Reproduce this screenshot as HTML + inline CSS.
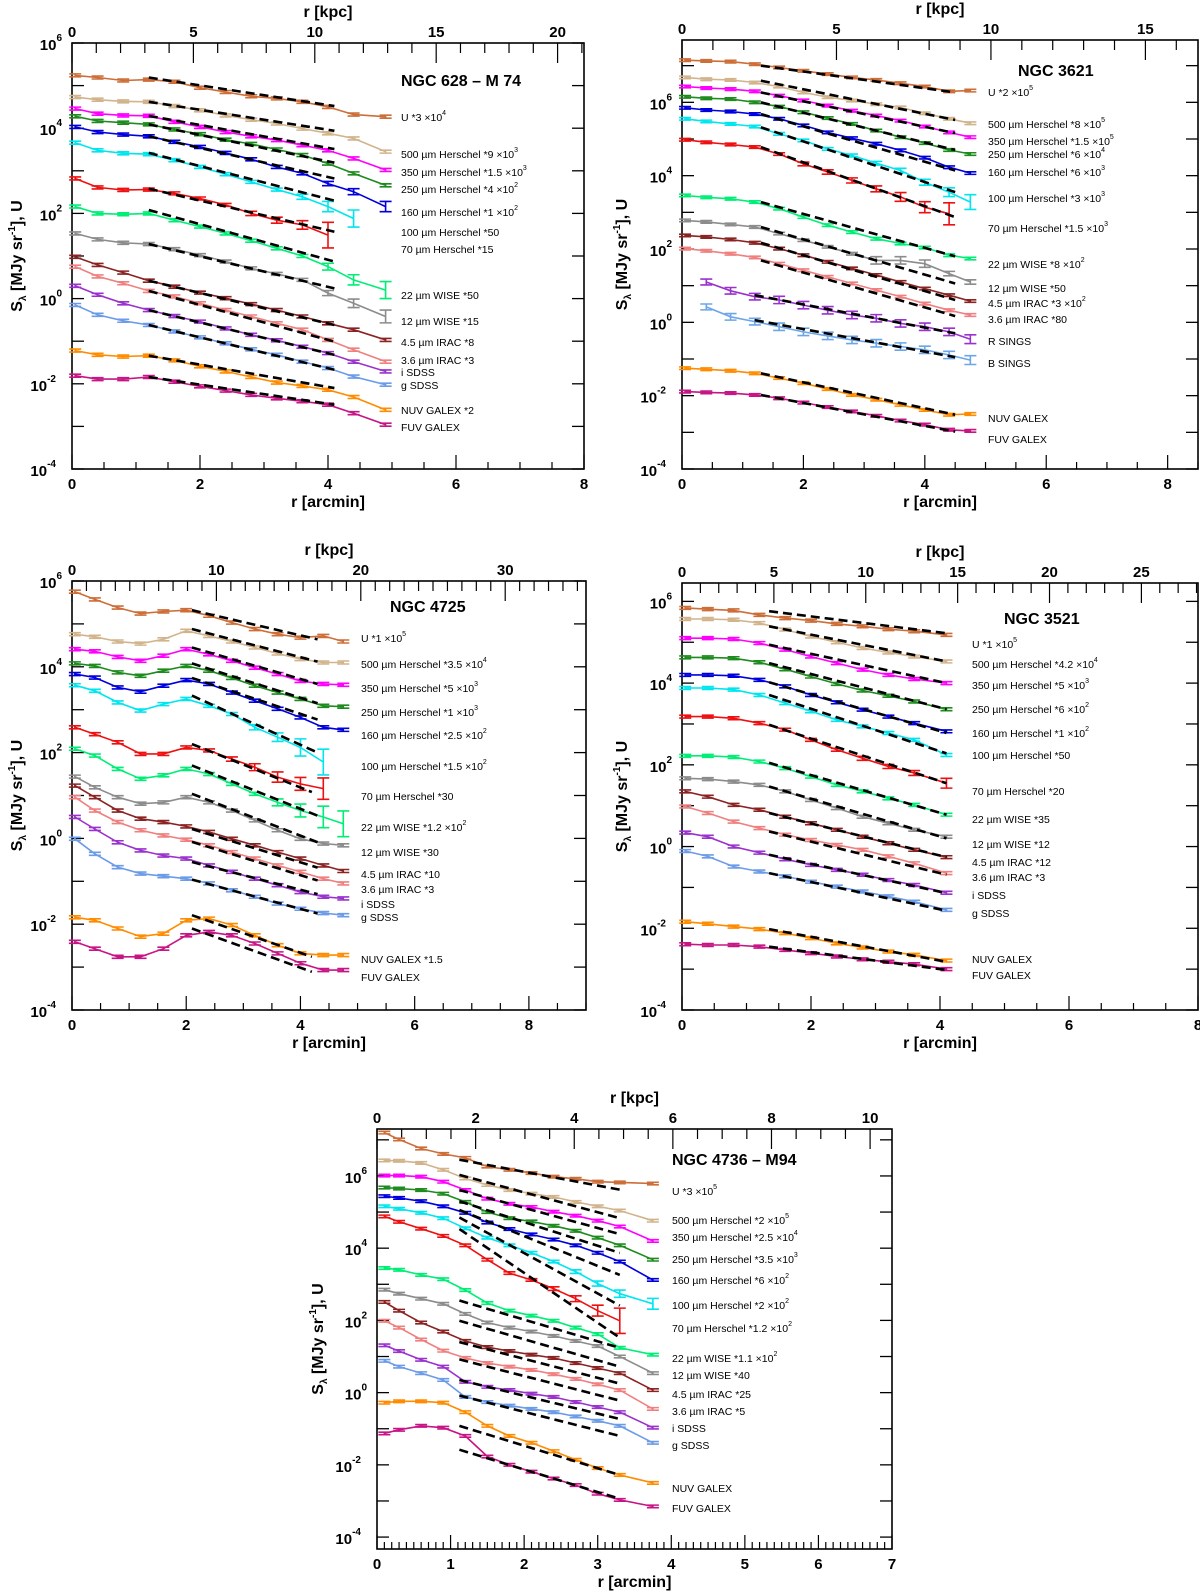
<!DOCTYPE html>
<html><head><meta charset="utf-8"><title>Surface brightness profiles</title>
<style>
html,body{margin:0;padding:0;background:#fff;}
svg{display:block;font-family:"Liberation Sans",Arial,sans-serif;}
.tl{font-size:15px;font-weight:bold;fill:#000;}
.at{font-size:16px;font-weight:bold;fill:#000;}
.sl{font-size:10.5px;fill:#000;}
.tt{font-size:16px;font-weight:bold;fill:#000;}
</style></head>
<body>
<svg id="fig" width="1200" height="1593" viewBox="0 0 1200 1593" xmlns="http://www.w3.org/2000/svg"></svg>
<script>
// ===== Panel 1: NGC 628 (log10 values) =====
const p1_r=[0.05,0.4,0.8,1.2,1.6,2.0,2.4,2.8,3.2,3.6,4.0,4.4,4.9];
const p1_U=[5.24,5.19,5.12,5.14,5.09,4.95,4.85,4.75,4.70,4.62,4.50,4.32,4.27];
const p1_500=[4.73,4.67,4.63,4.62,4.52,4.42,4.30,4.20,4.11,3.99,3.88,3.76,3.45];
const p1_350=[4.46,4.34,4.30,4.29,4.15,4.03,3.91,3.81,3.72,3.60,3.48,3.29,3.02];
const p1_250=[4.28,4.17,4.13,4.09,3.97,3.86,3.73,3.63,3.50,3.37,3.17,2.94,2.66];
const p1_160=[4.03,3.91,3.85,3.81,3.68,3.56,3.42,3.27,3.09,2.94,2.70,2.51,2.16];
const p1_100=[3.66,3.48,3.41,3.39,3.25,3.09,2.92,2.74,2.56,2.39,2.16,1.88,null];
const p1_70=[2.82,2.61,2.55,2.56,2.47,2.35,2.20,2.00,1.84,1.73,1.49,null,null];
const p1_22=[2.16,2.00,1.98,2.00,1.84,1.69,1.53,1.36,1.18,1.00,0.75,0.44,0.20];
const p1_12=[1.53,1.39,1.31,1.28,1.16,1.02,0.87,0.71,0.58,0.44,0.13,-0.11,-0.42];
const p1_45=[0.98,0.79,0.61,0.42,0.28,0.14,0.01,-0.13,-0.27,-0.42,-0.58,-0.73,-0.97];
const p1_36=[0.75,0.52,0.36,0.18,0.05,-0.11,-0.27,-0.42,-0.58,-0.73,-0.97,-1.20,-1.48];
const p1_i=[0.30,0.09,-0.11,-0.27,-0.41,-0.54,-0.70,-0.85,-0.98,-1.13,-1.28,-1.48,-1.71];
const p1_g=[-0.15,-0.38,-0.52,-0.62,-0.77,-0.91,-1.05,-1.19,-1.32,-1.48,-1.63,-1.83,-2.02];
const p1_NUV=[-1.22,-1.32,-1.36,-1.34,-1.45,-1.59,-1.71,-1.84,-1.97,-2.05,-2.14,-2.31,-2.61];
const p1_FUV=[-1.81,-1.89,-1.89,-1.84,-1.95,-2.06,-2.16,-2.26,-2.34,-2.41,-2.49,-2.69,-2.96];
const p1_err100=[0,0,0,0,0,0,0,0,0,0.06,0.12,0.2,0];
const p1_err70=[0,0,0,0,0,0,0,0.05,0.07,0.1,0.3,0,0];
const p1_err22=[0,0,0,0,0,0,0,0,0,0,0.08,0.12,0.2];
const p1_err12=[0,0,0,0,0,0,0,0,0,0,0.06,0.1,0.15];
const p1_err160=[0,0,0,0,0,0,0,0,0,0,0.05,0.07,0.12];
const p1_fU=[1.2,5.19,4.1,4.52], p1_f500=[1.2,4.62,4.1,3.94], p1_f350=[1.2,4.29,4.1,3.51];
const p1_f250=[1.2,4.09,4.1,3.19], p1_f160=[1.2,3.81,4.1,2.82], p1_f100=[1.2,3.42,4.1,2.30];
const p1_f70=[1.2,2.58,4.1,1.57], p1_f22=[1.2,2.08,4.1,0.87], p1_f12=[1.2,1.28,4.1,0.24];
const p1_f45=[1.2,0.42,4.1,-0.62], p1_f36=[1.2,0.18,4.1,-1.01], p1_fi=[1.2,-0.27,4.1,-1.32];
const p1_fg=[1.2,-0.62,4.1,-1.67], p1_fNUV=[1.2,-1.34,4.1,-2.10], p1_fFUV=[1.2,-1.84,4.1,-2.49];

// ===== Panel 2: NGC 3621 =====
const p2_r=[0.05,0.4,0.8,1.2,1.6,2.0,2.4,2.8,3.2,3.6,4.0,4.4,4.75];
const p2_U=[7.15,7.13,7.11,7.04,6.95,6.86,6.77,6.68,6.61,6.52,6.43,6.30,6.32];
const p2_500=[6.68,6.63,6.61,6.54,6.43,6.27,6.14,6.05,5.95,5.86,5.70,5.55,5.43];
const p2_350=[6.43,6.39,6.36,6.30,6.18,6.05,5.91,5.77,5.64,5.50,5.34,5.18,5.05];
const p2_250=[6.15,6.11,6.09,6.00,5.88,5.73,5.57,5.41,5.23,5.05,4.89,4.70,4.59];
const p2_160=[5.85,5.79,5.75,5.68,5.55,5.37,5.18,5.02,4.87,4.69,4.49,4.23,4.07];
const p2_100=[5.55,5.48,5.41,5.34,5.14,4.96,4.73,4.55,4.34,4.14,3.82,3.55,3.28];
const p2_70=[4.98,4.91,4.85,4.78,4.59,4.32,4.10,3.87,3.64,3.42,3.14,2.96,null];
const p2_22=[3.46,3.41,3.37,3.28,3.10,2.87,2.65,2.46,2.28,2.15,2.04,1.83,1.74];
const p2_12=[2.78,2.74,2.67,2.60,2.42,2.24,2.06,1.87,1.69,1.69,1.60,1.33,1.10];
const p2_45=[2.37,2.33,2.26,2.17,2.01,1.83,1.65,1.47,1.29,1.10,0.92,0.74,0.58];
const p2_36=[2.01,1.95,1.87,1.77,1.60,1.42,1.24,1.06,0.88,0.70,0.51,0.33,0.20];
const p2_R=[null,1.10,0.86,0.70,0.61,0.47,0.33,0.20,0.11,-0.03,-0.12,-0.26,-0.46];
const p2_B=[null,0.42,0.15,0.02,-0.12,-0.26,-0.37,-0.48,-0.57,-0.66,-0.75,-0.89,-1.03];
const p2_NUV=[-1.25,-1.28,-1.32,-1.39,-1.52,-1.66,-1.82,-1.98,-2.11,-2.25,-2.39,-2.52,-2.50];
const p2_FUV=[-1.89,-1.91,-1.93,-1.98,-2.07,-2.19,-2.31,-2.43,-2.55,-2.68,-2.79,-2.93,-2.96];
const p2_err100=[0,0,0,0,0,0,0,0.04,0.05,0.06,0.08,0.12,0.2];
const p2_err70=[0,0,0,0,0,0.05,0.06,0.07,0.08,0.12,0.15,0.3,0];
const p2_err12=[0,0,0,0,0,0,0,0,0.1,0.1,0.1,0.06,0.06];
const p2_errR=[0,0.08,0.09,0.09,0.1,0.1,0.1,0.1,0.1,0.1,0.1,0.1,0.12];
const p2_errB=[0,0.08,0.09,0.09,0.1,0.1,0.1,0.1,0.1,0.1,0.1,0.1,0.12];
const p2_fU=[1.3,7.00,4.5,6.27], p2_f500=[1.3,6.59,4.5,5.52], p2_f350=[1.3,6.27,4.5,5.16];
const p2_f250=[1.3,6.00,4.5,4.70], p2_f160=[1.3,5.68,4.5,4.14], p2_f100=[1.3,5.32,4.5,3.55];
const p2_f70=[1.3,4.78,4.5,2.87], p2_f22=[1.3,3.28,4.5,1.80], p2_f12=[1.3,2.60,4.5,1.06];
const p2_f45=[1.3,2.17,4.5,0.61], p2_f36=[1.3,1.69,4.5,0.17], p2_fR=[1.2,0.74,4.5,-0.30];
const p2_fB=[1.2,0.06,4.5,-0.95], p2_fNUV=[1.3,-1.39,4.5,-2.52], p2_fFUV=[1.3,-1.98,4.5,-2.98];

// ===== Panel 3: NGC 4725 =====
const p3_r=[0.05,0.4,0.8,1.2,1.6,2.0,2.4,2.8,3.2,3.6,4.0,4.4,4.75];
const p3_U=[5.75,5.57,5.38,5.24,5.29,5.32,5.19,5.03,4.88,4.76,4.68,4.72,4.59];
const p3_500=[4.76,4.70,4.59,4.54,4.64,4.84,4.72,4.59,4.45,4.31,4.18,4.10,4.10];
const p3_350=[4.41,4.36,4.23,4.14,4.26,4.41,4.29,4.14,3.98,3.83,3.67,3.60,3.58];
const p3_250=[4.08,4.02,3.87,3.79,3.91,4.02,3.91,3.74,3.56,3.40,3.25,3.09,3.07];
const p3_160=[3.83,3.75,3.52,3.42,3.56,3.69,3.60,3.40,3.21,3.02,2.82,2.59,2.53];
const p3_100=[3.57,3.44,3.17,2.98,3.13,3.25,3.09,2.90,2.59,2.36,2.12,1.78,null];
const p3_70=[2.59,2.43,2.24,1.97,1.97,2.12,2.05,1.85,1.66,1.43,1.27,1.16,null];
const p3_22=[2.09,1.93,1.62,1.39,1.47,1.62,1.50,1.27,1.04,0.84,0.65,0.50,0.34];
const p3_12=[1.44,1.19,0.96,0.81,0.84,0.96,0.84,0.65,0.42,0.19,-0.01,-0.12,-0.16];
const p3_45=[1.23,0.96,0.65,0.46,0.38,0.28,0.15,-0.01,-0.16,-0.32,-0.47,-0.63,-0.76];
const p3_36=[0.96,0.65,0.38,0.19,0.07,-0.03,-0.16,-0.32,-0.47,-0.63,-0.78,-0.94,-1.05];
const p3_i=[0.50,0.22,-0.09,-0.28,-0.40,-0.47,-0.63,-0.78,-0.94,-1.09,-1.25,-1.36,-1.40];
const p3_g=[-0.01,-0.36,-0.67,-0.82,-0.88,-0.94,-1.05,-1.21,-1.36,-1.52,-1.64,-1.74,-1.79];
const p3_NUV=[-1.84,-1.91,-2.10,-2.29,-2.22,-1.91,-1.87,-2.02,-2.26,-2.49,-2.68,-2.72,-2.72];
const p3_FUV=[-2.41,-2.57,-2.76,-2.76,-2.57,-2.26,-2.18,-2.26,-2.45,-2.68,-2.91,-3.07,-3.07];
const p3_err100=[0,0,0,0,0,0,0,0,0.06,0.1,0.2,0.3,0];
const p3_err70=[0,0,0,0,0,0,0,0.05,0.08,0.12,0.15,0.25,0];
const p3_err22=[0,0,0,0,0,0,0,0,0,0.08,0.15,0.25,0.3];
const p3_fU=[2.1,5.32,4.3,4.64], p3_f500=[2.1,4.88,4.3,4.12], p3_f350=[2.1,4.45,4.3,3.60];
const p3_f250=[2.1,4.08,4.3,3.15], p3_f160=[2.1,3.74,4.3,2.77], p3_f100=[2.1,3.33,4.3,2.00];
const p3_f70=[2.1,2.20,4.2,1.08], p3_f22=[2.1,1.70,4.3,0.53], p3_f12=[2.1,1.04,4.3,-0.09];
const p3_f45=[2.1,0.22,4.3,-0.68], p3_f36=[2.1,-0.08,4.3,-0.98], p3_fi=[2.1,-0.55,4.3,-1.30];
const p3_fg=[2.1,-0.96,4.3,-1.75], p3_fNUV=[2.1,-1.79,4.2,-2.76], p3_fFUV=[2.1,-2.10,4.2,-3.11];

// ===== Panel 4: NGC 3521 =====
const p4_r=[0.05,0.4,0.8,1.2,1.6,2.0,2.4,2.8,3.2,3.6,4.1];
const p4_U=[5.84,5.81,5.78,5.67,5.59,5.53,5.45,5.39,5.32,5.27,5.18];
const p4_500=[5.57,5.57,5.55,5.47,5.31,5.14,5.00,4.86,4.75,4.65,4.53];
const p4_350=[5.10,5.10,5.08,4.98,4.82,4.65,4.49,4.33,4.20,4.10,4.00];
const p4_250=[4.63,4.63,4.61,4.51,4.34,4.16,3.98,3.82,3.69,3.55,3.36];
const p4_160=[4.20,4.20,4.18,4.08,3.92,3.71,3.53,3.35,3.18,3.02,2.82];
const p4_100=[3.88,3.88,3.84,3.71,3.51,3.31,3.10,2.94,2.78,2.61,2.24];
const p4_70=[3.18,3.18,3.14,3.02,2.86,2.61,2.37,2.16,1.96,1.80,1.55];
const p4_22=[2.22,2.22,2.19,2.08,1.92,1.71,1.51,1.35,1.18,1.02,0.78];
const p4_12=[1.67,1.65,1.59,1.51,1.35,1.14,0.94,0.73,0.57,0.41,0.24];
const p4_45=[1.35,1.22,1.02,0.90,0.73,0.57,0.41,0.24,0.08,-0.08,-0.26];
const p4_36=[0.98,0.82,0.61,0.45,0.29,0.16,0.04,-0.08,-0.24,-0.41,-0.65];
const p4_i=[0.34,0.24,0.00,-0.15,-0.31,-0.45,-0.57,-0.69,-0.82,-0.94,-1.13];
const p4_g=[-0.11,-0.24,-0.49,-0.61,-0.73,-0.86,-0.98,-1.10,-1.22,-1.35,-1.55];
const p4_NUV=[-1.84,-1.89,-1.96,-2.02,-2.12,-2.24,-2.37,-2.47,-2.57,-2.65,-2.79];
const p4_FUV=[-2.39,-2.41,-2.41,-2.45,-2.53,-2.61,-2.69,-2.76,-2.82,-2.88,-3.00];
const p4_err70=[0,0,0,0,0,0,0,0.05,0.05,0.06,0.12];
const p4_fU=[1.35,5.76,4.1,5.22], p4_f500=[1.35,5.39,4.1,4.53], p4_f350=[1.35,4.94,4.1,4.00];
const p4_f250=[1.35,4.49,4.1,3.36], p4_f160=[1.35,4.02,4.1,2.78], p4_f100=[1.35,3.71,4.1,2.28];
const p4_f70=[1.35,2.98,4.1,1.55], p4_f22=[1.35,2.05,4.1,0.78], p4_f12=[1.35,1.47,4.1,0.20];
const p4_f45=[1.35,0.82,4.1,-0.26], p4_f36=[1.35,0.37,4.1,-0.69], p4_fi=[1.35,-0.20,4.1,-1.14];
const p4_fg=[1.35,-0.65,4.1,-1.57], p4_fNUV=[1.35,-2.02,4.1,-2.82], p4_fFUV=[1.35,-2.45,4.1,-3.02];

// ===== Panel 5: NGC 4736 =====
const p5_r=[0.1,0.3,0.6,0.9,1.2,1.5,1.8,2.1,2.4,2.7,3.0,3.3,3.75];
const p5_U=[7.20,7.01,6.76,6.61,6.50,6.26,6.17,6.08,5.98,5.92,5.84,5.82,5.79];
const p5_500=[6.43,6.42,6.36,6.17,5.93,5.75,5.61,5.51,5.42,5.28,5.16,5.04,4.76];
const p5_350=[6.01,6.01,5.98,5.84,5.61,5.37,5.23,5.14,5.01,4.90,4.76,4.60,4.20];
const p5_250=[5.68,5.65,5.61,5.51,5.28,5.00,4.83,4.74,4.62,4.48,4.29,4.08,3.68];
const p5_160=[5.44,5.39,5.30,5.16,4.98,4.71,4.53,4.38,4.24,4.08,3.87,3.63,3.12];
const p5_100=[5.16,5.09,4.98,4.83,4.55,4.29,4.08,3.87,3.63,3.35,3.02,2.74,2.46];
const p5_70=[4.88,4.73,4.54,4.34,4.08,3.68,3.31,3.12,2.88,2.60,2.27,1.99,null];
const p5_22=[3.45,3.40,3.26,3.14,2.84,2.48,2.27,2.13,1.99,1.80,1.62,1.24,1.05];
const p5_12=[2.85,2.74,2.60,2.46,2.18,1.94,1.80,1.69,1.57,1.43,1.29,1.00,0.54];
const p5_45=[2.51,2.27,1.94,1.69,1.43,1.26,1.15,1.05,0.96,0.82,0.68,0.54,0.07];
const p5_36=[1.99,1.80,1.47,1.16,0.96,0.82,0.72,0.63,0.51,0.38,0.23,0.07,-0.45];
const p5_i=[1.31,1.15,0.91,0.72,0.30,0.16,0.07,-0.03,-0.12,-0.26,-0.40,-0.54,-0.97];
const p5_g=[0.88,0.72,0.54,0.35,-0.12,-0.26,-0.36,-0.45,-0.54,-0.66,-0.78,-0.92,-1.39];
const p5_NUV=[-0.28,-0.24,-0.24,-0.28,-0.54,-0.92,-1.20,-1.39,-1.62,-1.86,-2.09,-2.28,-2.50];
const p5_FUV=[-1.13,-1.03,-0.92,-0.97,-1.20,-1.77,-2.00,-2.19,-2.38,-2.56,-2.80,-2.97,-3.15];
const p5_err100=[0,0,0,0,0,0,0,0,0,0.05,0.07,0.1,0.15];
const p5_err70=[0,0,0,0,0,0,0,0,0.05,0.08,0.15,0.35,0];
const p5_fU=[1.12,6.45,3.3,5.62], p5_f500=[1.12,6.03,3.3,4.83], p5_f350=[1.12,5.61,3.3,4.39];
const p5_f250=[1.12,5.30,3.3,3.87], p5_f160=[1.12,5.06,3.3,3.26], p5_f100=[1.12,4.85,3.3,2.41];
const p5_f70=[1.12,4.53,3.3,1.52], p5_f22=[1.12,2.55,3.3,1.24], p5_f12=[1.12,1.99,3.3,0.72];
const p5_f45=[1.12,1.40,3.3,0.25], p5_f36=[1.12,0.92,3.3,-0.22], p5_fi=[1.12,0.35,3.3,-0.73];
const p5_fg=[1.12,-0.08,3.3,-1.20], p5_fNUV=[1.12,-0.92,3.3,-2.28], p5_fFUV=[1.12,-1.58,3.3,-2.94];

const C={U:'#cd6e38',h500:'#d2b48c',h350:'#ff00ff',h250:'#1e8b1e',h160:'#0000dd',h100:'#00e5ee',h70:'#ee1010',
w22:'#00ee76',w12:'#8c8c8c',i45:'#8b2323',i36:'#f08080',si:'#9a32cd',sg:'#6c9be8',R:'#9a32cd',B:'#6ca6e8',NUV:'#ff8c00',FUV:'#c71585'};
const MU='\u00b5m';

const panels=[
{id:'ngc628',x0:72,x1:584,y0:43,y1:469,xmax:8,ymin:-4,ymax:6,kpc:2.636,kmin:1,kmaj:5,amin:0.5,amaj:2,
 title:'NGC 628 \u2013 M 74',tx:401,ty:86,lx:401,ytx:22,r:p1_r,series:[
 {k:'U',c:C.U,v:p1_U,f:p1_fU,l:['U *3 \u00d710','4'],ly:117},
 {k:'500',c:C.h500,v:p1_500,f:p1_f500,l:['500 '+MU+' Herschel *9 \u00d710','3'],ly:154},
 {k:'350',c:C.h350,v:p1_350,f:p1_f350,l:['350 '+MU+' Herschel *1.5 \u00d710','3'],ly:172},
 {k:'250',c:C.h250,v:p1_250,f:p1_f250,l:['250 '+MU+' Herschel *4 \u00d710','2'],ly:189},
 {k:'160',c:C.h160,v:p1_160,f:p1_f160,e:p1_err160,l:['160 '+MU+' Herschel *1 \u00d710','2'],ly:212},
 {k:'100',c:C.h100,v:p1_100,f:p1_f100,e:p1_err100,l:['100 '+MU+' Herschel *50',''],ly:232},
 {k:'70',c:C.h70,v:p1_70,f:p1_f70,e:p1_err70,l:['70 '+MU+' Herschel *15',''],ly:249},
 {k:'22',c:C.w22,v:p1_22,f:p1_f22,e:p1_err22,l:['22 '+MU+' WISE *50',''],ly:295},
 {k:'12',c:C.w12,v:p1_12,f:p1_f12,e:p1_err12,l:['12 '+MU+' WISE *15',''],ly:321},
 {k:'45',c:C.i45,v:p1_45,f:p1_f45,l:['4.5 '+MU+' IRAC *8',''],ly:342},
 {k:'36',c:C.i36,v:p1_36,f:p1_f36,l:['3.6 '+MU+' IRAC *3',''],ly:360},
 {k:'i',c:C.si,v:p1_i,f:p1_fi,l:['i SDSS',''],ly:372},
 {k:'g',c:C.sg,v:p1_g,f:p1_fg,l:['g SDSS',''],ly:385},
 {k:'NUV',c:C.NUV,v:p1_NUV,f:p1_fNUV,l:['NUV GALEX *2',''],ly:410},
 {k:'FUV',c:C.FUV,v:p1_FUV,f:p1_fFUV,l:['FUV GALEX',''],ly:427}]},
{id:'ngc3621',x0:682,x1:1198,y0:40,y1:469,xmax:8.5,ymin:-4,ymax:7.7,kpc:1.965,kmin:1,kmaj:5,amin:0.5,amaj:2,
 title:'NGC 3621',tx:1018,ty:76,lx:988,ytx:627,r:p2_r,series:[
 {k:'U',c:C.U,v:p2_U,f:p2_fU,l:['U *2 \u00d710','5'],ly:92},
 {k:'500',c:C.h500,v:p2_500,f:p2_f500,l:['500 '+MU+' Herschel *8 \u00d710','5'],ly:124},
 {k:'350',c:C.h350,v:p2_350,f:p2_f350,l:['350 '+MU+' Herschel *1.5 \u00d710','5'],ly:141},
 {k:'250',c:C.h250,v:p2_250,f:p2_f250,l:['250 '+MU+' Herschel *6 \u00d710','4'],ly:154},
 {k:'160',c:C.h160,v:p2_160,f:p2_f160,l:['160 '+MU+' Herschel *6 \u00d710','3'],ly:172},
 {k:'100',c:C.h100,v:p2_100,f:p2_f100,e:p2_err100,l:['100 '+MU+' Herschel *3 \u00d710','3'],ly:198},
 {k:'70',c:C.h70,v:p2_70,f:p2_f70,e:p2_err70,l:['70 '+MU+' Herschel *1.5 \u00d710','3'],ly:228},
 {k:'22',c:C.w22,v:p2_22,f:p2_f22,l:['22 '+MU+' WISE *8 \u00d710','2'],ly:264},
 {k:'12',c:C.w12,v:p2_12,f:p2_f12,e:p2_err12,l:['12 '+MU+' WISE *50',''],ly:288},
 {k:'45',c:C.i45,v:p2_45,f:p2_f45,l:['4.5 '+MU+' IRAC *3 \u00d710','2'],ly:303},
 {k:'36',c:C.i36,v:p2_36,f:p2_f36,l:['3.6 '+MU+' IRAC *80',''],ly:319},
 {k:'R',c:C.R,v:p2_R,f:p2_fR,e:p2_errR,l:['R SINGS',''],ly:341},
 {k:'B',c:C.B,v:p2_B,f:p2_fB,e:p2_errB,l:['B SINGS',''],ly:363},
 {k:'NUV',c:C.NUV,v:p2_NUV,f:p2_fNUV,l:['NUV GALEX',''],ly:418},
 {k:'FUV',c:C.FUV,v:p2_FUV,f:p2_fFUV,l:['FUV GALEX',''],ly:439}]},
{id:'ngc4725',x0:72,x1:586,y0:581,y1:1010,xmax:9,ymin:-4,ymax:6,kpc:3.955,kmin:1,kmaj:10,amin:0.5,amaj:2,
 title:'NGC 4725',tx:390,ty:612,lx:361,ytx:22,r:p3_r,series:[
 {k:'U',c:C.U,v:p3_U,f:p3_fU,l:['U *1 \u00d710','5'],ly:638},
 {k:'500',c:C.h500,v:p3_500,f:p3_f500,l:['500 '+MU+' Herschel *3.5 \u00d710','4'],ly:664},
 {k:'350',c:C.h350,v:p3_350,f:p3_f350,l:['350 '+MU+' Herschel *5 \u00d710','3'],ly:688},
 {k:'250',c:C.h250,v:p3_250,f:p3_f250,l:['250 '+MU+' Herschel *1 \u00d710','3'],ly:712},
 {k:'160',c:C.h160,v:p3_160,f:p3_f160,l:['160 '+MU+' Herschel *2.5 \u00d710','2'],ly:735},
 {k:'100',c:C.h100,v:p3_100,f:p3_f100,e:p3_err100,l:['100 '+MU+' Herschel *1.5 \u00d710','2'],ly:766},
 {k:'70',c:C.h70,v:p3_70,f:p3_f70,e:p3_err70,l:['70 '+MU+' Herschel *30',''],ly:796},
 {k:'22',c:C.w22,v:p3_22,f:p3_f22,e:p3_err22,l:['22 '+MU+' WISE *1.2 \u00d710','2'],ly:827},
 {k:'12',c:C.w12,v:p3_12,f:p3_f12,l:['12 '+MU+' WISE *30',''],ly:852},
 {k:'45',c:C.i45,v:p3_45,f:p3_f45,l:['4.5 '+MU+' IRAC *10',''],ly:874},
 {k:'36',c:C.i36,v:p3_36,f:p3_f36,l:['3.6 '+MU+' IRAC *3',''],ly:889},
 {k:'i',c:C.si,v:p3_i,f:p3_fi,l:['i SDSS',''],ly:904},
 {k:'g',c:C.sg,v:p3_g,f:p3_fg,l:['g SDSS',''],ly:917},
 {k:'NUV',c:C.NUV,v:p3_NUV,f:p3_fNUV,l:['NUV GALEX *1.5',''],ly:959},
 {k:'FUV',c:C.FUV,v:p3_FUV,f:p3_fFUV,l:['FUV GALEX',''],ly:977}]},
{id:'ngc3521',x0:682,x1:1198,y0:583,y1:1010,xmax:8,ymin:-4,ymax:6.45,kpc:3.51,kmin:1,kmaj:5,amin:0.5,amaj:2,
 title:'NGC 3521',tx:1004,ty:624,lx:972,ytx:627,r:p4_r,series:[
 {k:'U',c:C.U,v:p4_U,f:p4_fU,l:['U *1 \u00d710','5'],ly:644},
 {k:'500',c:C.h500,v:p4_500,f:p4_f500,l:['500 '+MU+' Herschel *4.2 \u00d710','4'],ly:664},
 {k:'350',c:C.h350,v:p4_350,f:p4_f350,l:['350 '+MU+' Herschel *5 \u00d710','3'],ly:685},
 {k:'250',c:C.h250,v:p4_250,f:p4_f250,l:['250 '+MU+' Herschel *6 \u00d710','2'],ly:709},
 {k:'160',c:C.h160,v:p4_160,f:p4_f160,l:['160 '+MU+' Herschel *1 \u00d710','2'],ly:733},
 {k:'100',c:C.h100,v:p4_100,f:p4_f100,l:['100 '+MU+' Herschel *50',''],ly:755},
 {k:'70',c:C.h70,v:p4_70,f:p4_f70,e:p4_err70,l:['70 '+MU+' Herschel *20',''],ly:791},
 {k:'22',c:C.w22,v:p4_22,f:p4_f22,l:['22 '+MU+' WISE *35',''],ly:819},
 {k:'12',c:C.w12,v:p4_12,f:p4_f12,l:['12 '+MU+' WISE *12',''],ly:844},
 {k:'45',c:C.i45,v:p4_45,f:p4_f45,l:['4.5 '+MU+' IRAC *12',''],ly:862},
 {k:'36',c:C.i36,v:p4_36,f:p4_f36,l:['3.6 '+MU+' IRAC *3',''],ly:877},
 {k:'i',c:C.si,v:p4_i,f:p4_fi,l:['i SDSS',''],ly:895},
 {k:'g',c:C.sg,v:p4_g,f:p4_fg,l:['g SDSS',''],ly:913},
 {k:'NUV',c:C.NUV,v:p4_NUV,f:p4_fNUV,l:['NUV GALEX',''],ly:959},
 {k:'FUV',c:C.FUV,v:p4_FUV,f:p4_fFUV,l:['FUV GALEX',''],ly:975}]},
{id:'ngc4736',x0:377,x1:892,y0:1129,y1:1549,xmax:7,ymin:-4.33,ymax:7.3,kpc:1.492,kmin:0.5,kmaj:2,amin:0.1,amaj:1,
 title:'NGC 4736 \u2013 M94',tx:672,ty:1165,lx:672,ytx:323,r:p5_r,series:[
 {k:'U',c:C.U,v:p5_U,f:p5_fU,l:['U *3 \u00d710','5'],ly:1191},
 {k:'500',c:C.h500,v:p5_500,f:p5_f500,l:['500 '+MU+' Herschel *2 \u00d710','5'],ly:1220},
 {k:'350',c:C.h350,v:p5_350,f:p5_f350,l:['350 '+MU+' Herschel *2.5 \u00d710','4'],ly:1237},
 {k:'250',c:C.h250,v:p5_250,f:p5_f250,l:['250 '+MU+' Herschel *3.5 \u00d710','3'],ly:1259},
 {k:'160',c:C.h160,v:p5_160,f:p5_f160,l:['160 '+MU+' Herschel *6 \u00d710','2'],ly:1280},
 {k:'100',c:C.h100,v:p5_100,f:p5_f100,e:p5_err100,l:['100 '+MU+' Herschel *2 \u00d710','2'],ly:1305},
 {k:'70',c:C.h70,v:p5_70,f:p5_f70,e:p5_err70,l:['70 '+MU+' Herschel *1.2 \u00d710','2'],ly:1328},
 {k:'22',c:C.w22,v:p5_22,f:p5_f22,l:['22 '+MU+' WISE *1.1 \u00d710','2'],ly:1358},
 {k:'12',c:C.w12,v:p5_12,f:p5_f12,l:['12 '+MU+' WISE *40',''],ly:1375},
 {k:'45',c:C.i45,v:p5_45,f:p5_f45,l:['4.5 '+MU+' IRAC *25',''],ly:1394},
 {k:'36',c:C.i36,v:p5_36,f:p5_f36,l:['3.6 '+MU+' IRAC *5',''],ly:1411},
 {k:'i',c:C.si,v:p5_i,f:p5_fi,l:['i SDSS',''],ly:1428},
 {k:'g',c:C.sg,v:p5_g,f:p5_fg,l:['g SDSS',''],ly:1445},
 {k:'NUV',c:C.NUV,v:p5_NUV,f:p5_fNUV,l:['NUV GALEX',''],ly:1488},
 {k:'FUV',c:C.FUV,v:p5_FUV,f:p5_fFUV,l:['FUV GALEX',''],ly:1508}]}
];

const NS='http://www.w3.org/2000/svg';
const svg=document.getElementById('fig');
function mk(tag,attrs,parent){const e=document.createElementNS(NS,tag);for(const k in attrs)e.setAttribute(k,attrs[k]);(parent||svg).appendChild(e);return e;}

panels.forEach(p=>{
  const g=mk('g',{});
  
  
  const X=r=>p.x0+(r/p.xmax)*(p.x1-p.x0);
  const Y=v=>p.y1-(v-p.ymin)/(p.ymax-p.ymin)*(p.y1-p.y0);
  const W=p.x1-p.x0,H=p.y1-p.y0;
  const box=mk('rect',{x:p.x0,y:p.y0,width:W,height:H,fill:'none',stroke:'#000','stroke-width':1.6},g);
  
  
  for(let d=Math.ceil(p.ymin);d<=Math.floor(p.ymax);d++){
    const y=Y(d);
    mk('line',{x1:p.x0,x2:p.x0+12,y1:y,y2:y,stroke:'#000','stroke-width':1.3},g);
    mk('line',{x1:p.x1,x2:p.x1-12,y1:y,y2:y,stroke:'#000','stroke-width':1.3},g);
    if(d%2===0){
      const t=mk('text',{x:p.x0-4-(String(d).length*6),y:y+7,'text-anchor':'end',class:'tl'},g);
      
      
      t.textContent='10';
      const s=mk('tspan',{dy:-9,'font-size':'10px'},t);s.textContent=String(d);
    }
  }
  const na=Math.round(p.xmax/p.amin);
  for(let i=0;i<=na;i++){
    const r=i*p.amin;const x=X(r);
    const maj=Math.abs(r/p.amaj-Math.round(r/p.amaj))<1e-6;
    mk('line',{x1:x,x2:x,y1:p.y1,y2:p.y1-(maj?14:7),stroke:'#000','stroke-width':1.2},g);
    if(maj){
      const t=mk('text',{x:x,y:p.y1+20,'text-anchor':'middle',class:'tl'},g);
      
      
      t.textContent=String(Math.round(r));
    }
  }
  const kmax=p.xmax*p.kpc;
  for(let i=0;i*p.kmin<=kmax+1e-6;i++){
    const k=i*p.kmin;const x=X(k/p.kpc);
    const maj=Math.abs(k/p.kmaj-Math.round(k/p.kmaj))<1e-6;
    mk('line',{x1:x,x2:x,y1:p.y0,y2:p.y0+(maj?20:10),stroke:'#000','stroke-width':1.2},g);
    if(maj){
      const t=mk('text',{x:x,y:p.y0-6,'text-anchor':'middle',class:'tl'},g);
      
      
      t.textContent=String(Math.round(k));
    }
  }
  const xt=mk('text',{x:(p.x0+p.x1)/2,y:p.y1+38,'text-anchor':'middle',class:'at'},g);
  
  
  xt.textContent='r [arcmin]';
  const kt=mk('text',{x:(p.x0+p.x1)/2,y:p.y0-26,'text-anchor':'middle',class:'at'},g);
  
  
  kt.textContent='r [kpc]';
  const cy=(p.y0+p.y1)/2;
  const yt=mk('text',{x:p.ytx,y:cy,'text-anchor':'middle',class:'at',transform:'rotate(-90 '+p.ytx+' '+cy+')'},g);
  
  
  const a=mk('tspan',{},yt);a.textContent='S';
  const b=mk('tspan',{dy:4,'font-size':'10px'},yt);b.textContent='\u03bb';
  const c=mk('tspan',{dy:-4},yt);c.textContent=' [MJy sr';
  const d2=mk('tspan',{dy:-7,'font-size':'10px'},yt);d2.textContent='-1';
  const e2=mk('tspan',{dy:7},yt);e2.textContent='], U';
  const tt=mk('text',{x:p.tx,y:p.ty,class:'tt'},g);
  
  
  tt.textContent=p.title;
  p.series.forEach(s=>{
    const sg=mk('g',{},g);
    
    
    let pts=[];
    s.v.forEach((v,i)=>{if(v!==null&&v!==undefined)pts.push([X(p.r[i]),Y(v),i]);});
    const ln=mk('polyline',{points:pts.map(q=>q[0].toFixed(1)+','+q[1].toFixed(1)).join(' '),fill:'none',stroke:s.c,'stroke-width':1.6},sg);
    
    
    pts.forEach(q=>{
      const i=q[2];const ev=(s.e&&s.e[i])?s.e[i]:0.035;
      const ya=Y(s.v[i]+ev),yb=Y(s.v[i]-ev);const x=q[0];
      const eb=mk('path',{d:'M'+x+' '+ya+'V'+yb+'M'+(x-6)+' '+ya+'H'+(x+6)+'M'+(x-6)+' '+yb+'H'+(x+6),stroke:s.c,'stroke-width':1.6,fill:'none'},sg);
      
      
    });
    const f=s.f;
    const fl=mk('line',{x1:X(f[0]),y1:Y(f[1]),x2:X(f[2]),y2:Y(f[3]),stroke:'#000','stroke-width':2.6,'stroke-dasharray':'9,5'},sg);
    
    
    const lt=mk('text',{x:p.lx,y:s.ly+4,class:'sl'},sg);
    
    
    lt.textContent=s.l[0];
    if(s.l[1]){const sp=mk('tspan',{dy:-6,'font-size':'7px'},lt);sp.textContent=s.l[1];}
  });
});
</script>
</body></html>
